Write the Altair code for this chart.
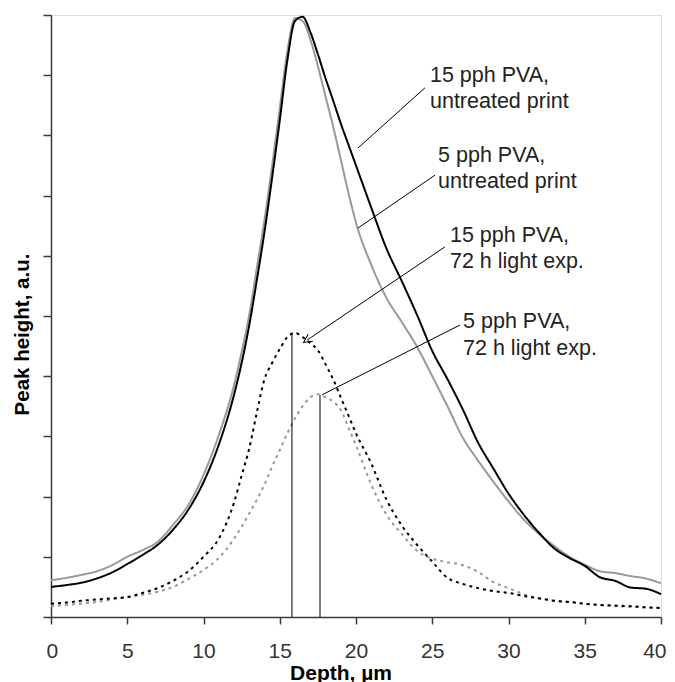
import altair as alt
import pandas as pd

# ---------------- data ----------------
depth = [0, 1, 2, 3, 4, 5, 6, 7, 8, 9, 10, 11, 12,
         12.5, 13, 13.5, 14, 14.5, 15, 15.5, 16, 16.5, 17, 17.5, 18, 18.5, 19, 19.5,
         20, 21, 22, 23, 24, 25, 26, 27, 28, 29, 30, 31, 32, 33, 34, 35, 36, 37, 38, 39, 40]

pva15_untreated = [0.50, 0.53, 0.57, 0.64, 0.74, 0.88, 1.03, 1.20, 1.45, 1.78, 2.24, 2.86, 3.69,
                   4.22, 4.85, 5.60, 6.40, 7.30, 8.25, 9.25, 9.90, 9.97, 9.72, 9.35, 8.95, 8.58, 8.20, 7.85,
                   7.50, 6.80, 6.12, 5.58, 5.02, 4.42, 3.95, 3.45, 2.90, 2.47, 2.05, 1.70, 1.40, 1.14, 0.98,
                   0.85, 0.66, 0.60, 0.49, 0.47, 0.38]

pva5_untreated = [0.61, 0.65, 0.70, 0.76, 0.86, 1.00, 1.11, 1.25, 1.53, 1.86, 2.36, 3.02, 3.85,
                  4.40, 5.02, 5.80, 6.60, 7.50, 8.45, 9.40, 9.95, 9.90, 9.60, 9.15, 8.65, 8.15, 7.60, 7.05,
                  6.55, 5.85, 5.30, 4.90, 4.49, 4.00, 3.50, 2.98, 2.60, 2.25, 1.92, 1.62, 1.38, 1.18, 1.00,
                  0.87, 0.76, 0.73, 0.68, 0.64, 0.56]

pva15_light = [0.22, 0.24, 0.27, 0.29, 0.31, 0.33, 0.40, 0.48, 0.60, 0.76, 1.00, 1.30, 1.90,
               2.35, 2.80, 3.40, 3.95, 4.22, 4.45, 4.65, 4.72, 4.65, 4.55, 4.43, 4.20, 3.95, 3.65, 3.35,
               3.05, 2.55, 1.95, 1.52, 1.20, 0.92, 0.65, 0.55, 0.48, 0.43, 0.40, 0.35, 0.31, 0.27, 0.25,
               0.22, 0.20, 0.19, 0.18, 0.16, 0.15]

pva5_light = [0.18, 0.20, 0.22, 0.25, 0.29, 0.33, 0.37, 0.42, 0.50, 0.63, 0.78, 0.98, 1.30,
              1.50, 1.72, 1.95, 2.20, 2.50, 2.77, 3.05, 3.30, 3.50, 3.65, 3.70, 3.65, 3.58, 3.44, 3.15,
              2.85, 2.20, 1.70, 1.38, 1.10, 0.97, 0.91, 0.86, 0.75, 0.58, 0.48, 0.38, 0.31, 0.27, 0.25,
              0.22, 0.20, 0.18, 0.17, 0.16, 0.15]

series_names = ["5 pph PVA, untreated print", "15 pph PVA, untreated print",
                "5 pph PVA, 72 h light exp.", "15 pph PVA, 72 h light exp."]
series_values = [pva5_untreated, pva15_untreated, pva5_light, pva15_light]
series_colors = ["#999999", "#000000", "#999999", "#000000"]
series_dashes = [[1, 0], [1, 0], [3, 4], [3, 4]]
series_widths = [2, 2, 2.6, 2.6]

x_ticks = [0, 5, 10, 15, 20, 25, 30, 35, 40]
y_ticks = [0, 1, 2, 3, 4, 5, 6, 7, 8, 9, 10]

# annotation labels (left x, baseline y in data units)
label_text = ["15 pph PVA,\nuntreated print", "5 pph PVA,\nuntreated print",
              "15 pph PVA,\n72 h light exp.", "5 pph PVA,\n72 h light exp."]
label_x = [24.85, 25.38, 26.16, 27.02]
label_y = [8.89, 7.56, 6.23, 4.80]

# leader lines (curve end -> label end)
leader_x = [20.13, 20.13, 16.79, 17.77, 15.80, 17.64]
leader_y = [7.79, 6.46, 4.60, 3.69, 4.72, 3.69]
leader_x2 = [24.52, 25.18, 25.84, 26.82, 15.80, 17.64]
leader_y2 = [8.79, 7.34, 6.15, 4.85, 0.0, 0.0]

arrow_x = [16.79]
arrow_y = [4.60]

# ---------------- tables ----------------
rows = []
for name, vals in zip(series_names, series_values):
    for d, v in zip(depth, vals):
        rows.append({"depth": d, "height": v, "series": name})
df = pd.DataFrame(rows)

df_lab = pd.DataFrame({"depth": label_x, "height": label_y, "label": label_text})
df_lead = pd.DataFrame({"depth": leader_x, "height": leader_y, "depth2": leader_x2, "height2": leader_y2})
df_arrow = pd.DataFrame({"depth": arrow_x, "height": arrow_y})

FONT = "Liberation Sans"
AX = "#3a3a3a"

x_scale = alt.Scale(domain=[0, 40], nice=False, zero=False)
y_scale = alt.Scale(domain=[0, 10], nice=False, zero=False)

x_axis = alt.Axis(values=x_ticks, title="Depth, µm", grid=False, tickSize=7, labelPadding=16,
                  labelFlush=True, labelFlushOffset=5, labelOverlap=False, labelFontSize=21,
                  labelFont=FONT, labelColor="#333333", domainColor=AX, tickColor=AX,
                  domainWidth=1.5, tickWidth=1.5,
                  titleFont=FONT, titleFontSize=21, titleFontWeight="bold", titleColor="#000000",
                  titleX=289.5, titleY=62, titleBaseline="alphabetic")
y_axis = alt.Axis(values=y_ticks, labels=False, title="Peak height, a.u.", grid=False, tickSize=8,
                  domainColor=AX, tickColor=AX, domainWidth=1.5, tickWidth=1.5,
                  titleFont=FONT, titleFontSize=20.5, titleFontWeight="bold", titleColor="#000000",
                  titleX=-23, titleY=319, titleBaseline="alphabetic", titleAngle=270)

X = alt.X("depth:Q", scale=x_scale, axis=x_axis)
Y = alt.Y("height:Q", scale=y_scale, axis=y_axis)

lines = alt.Chart(df).mark_line(strokeCap="butt", interpolate="monotone").encode(
    x=X, y=Y,
    color=alt.Color("series:N", scale=alt.Scale(domain=series_names, range=series_colors), legend=None),
    strokeDash=alt.StrokeDash("series:N", scale=alt.Scale(domain=series_names, range=series_dashes), legend=None),
    strokeWidth=alt.StrokeWidth("series:N", scale=alt.Scale(domain=series_names, range=series_widths), legend=None),
)

leaders = alt.Chart(df_lead).mark_rule(color="#000000", strokeWidth=1).encode(
    x=X, y=Y, x2="depth2:Q", y2="height2:Q"
)

arrow = alt.Chart(df_arrow).mark_point(
    shape="M -1 1 L 0 -1 L 1 1", filled=False, color="#000000", strokeWidth=1, size=70, angle=236, opacity=1
).encode(x=X, y=Y)

labels = alt.Chart(df_lab).mark_text(
    align="left", baseline="alphabetic", font=FONT, fontSize=21.5, color="#222222",
    lineBreak="\n", lineHeight=26.5
).encode(x=X, y=Y, text="label:N")

chart = alt.layer(lines, leaders, arrow, labels).properties(
    width=610, height=602,
    autosize=alt.AutoSizeParams(type="none"),
    padding={"left": 43, "top": 7, "right": 6, "bottom": 66},
).configure_view(stroke=None).configure(background="white")

chart.save("out.html", embed_options={"renderer": "svg", "actions": False})
